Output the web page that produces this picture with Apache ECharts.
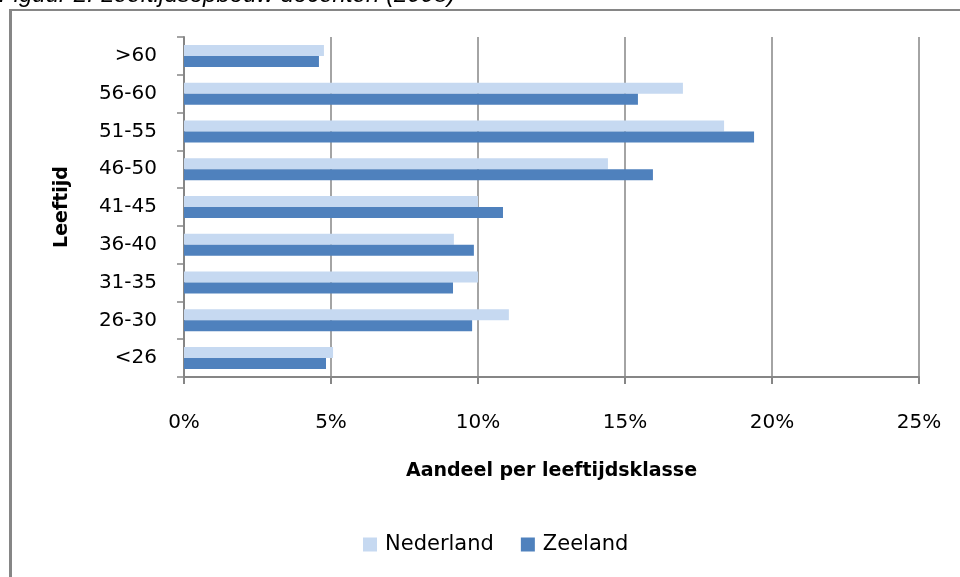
<!DOCTYPE html>
<html>
<head>
<meta charset="utf-8">
<script src="https://cdn.jsdelivr.net/npm/echarts@6/dist/echarts.min.js"></script>
<style>html,body{margin:0;padding:0;background:#fff}#c{width:960px;height:577px}</style>
</head>
<body>
<div id="c"></div>
<script>
// Categories bottom-to-top (ECharts category y-axis starts at the bottom)
const categories = ['<26', '26-30', '31-35', '36-40', '41-45', '46-50', '51-55', '56-60', '>60'];
const nederland = [5.07, 11.05, 10.0, 9.18, 10.0, 14.42, 18.37, 16.97, 4.76];
const zeeland = [4.83, 9.8, 9.15, 9.86, 10.85, 15.95, 19.39, 15.44, 4.59];
const xTicks = [0, 5, 10, 15, 20, 25];
const titleText = 'Figuur 2: Leeftijdsopbouw docenten (2008)';

const axisGrey = '#868686';
const chart = echarts.init(document.getElementById('c'), null, {renderer: 'canvas'});
chart.setOption({
  animation: false,
  backgroundColor: '#fff',
  textStyle: {fontFamily: 'DejaVu Sans'},
  graphic: [
    {type: 'text', left: -1, top: -17, style: {text: titleText, font: 'italic 24px "Liberation Sans"', fill: '#000'}},
    {type: 'line', shape: {x1: 9, y1: 10, x2: 960, y2: 10}, style: {stroke: axisGrey, lineWidth: 2}},
    {type: 'line', shape: {x1: 10.5, y1: 9, x2: 10.5, y2: 577}, style: {stroke: axisGrey, lineWidth: 3}}
  ],
  legend: {
    bottom: 17,
    left: 358,
    itemWidth: 14, itemHeight: 14, itemGap: 27,
    icon: 'rect',
    textStyle: {fontFamily: 'DejaVu Sans', fontSize: 21, color: '#000', padding: [0, 0, 0, 3]},
    data: ['Nederland', 'Zeeland']
  },
  grid: {left: 184, right: 41, top: 37, bottom: 200, containLabel: false},
  xAxis: {
    type: 'value', min: 0, max: 25, interval: 5,
    name: 'Aandeel per leeftijdsklasse', nameLocation: 'middle', nameGap: 85,
    nameTextStyle: {fontFamily: 'DejaVu Sans', fontSize: 19, fontWeight: 'bold', color: '#000'},
    axisLine: {show: true, lineStyle: {color: axisGrey, width: 2}},
    axisTick: {show: true, length: 7, lineStyle: {color: axisGrey, width: 2}},
    axisLabel: {margin: 36, fontSize: 20, color: '#000', formatter: v => xTicks.includes(v) ? v + '%' : ''},
    splitLine: {show: true, lineStyle: {color: axisGrey, width: 1.5}}
  },
  yAxis: {
    type: 'category', data: categories,
    name: 'Leeftijd', nameLocation: 'middle', nameGap: 112, nameRotate: 90,
    nameTextStyle: {fontFamily: 'DejaVu Sans', fontSize: 19, fontWeight: 'bold', color: '#000'},
    axisLine: {show: true, lineStyle: {color: axisGrey, width: 2}},
    axisTick: {show: true, length: 7, lineStyle: {color: axisGrey, width: 1.5}},
    axisLabel: {margin: 27, fontSize: 20, color: '#000'}
  },
  series: [
    {name: 'Nederland', type: 'bar', data: nederland, barWidth: 11, barGap: '0%', itemStyle: {color: '#C6D9F1'}},
    {name: 'Zeeland', type: 'bar', data: zeeland, barWidth: 11, barGap: '0%', itemStyle: {color: '#4F81BD'}}
  ]
});
</script>
</body>
</html>
